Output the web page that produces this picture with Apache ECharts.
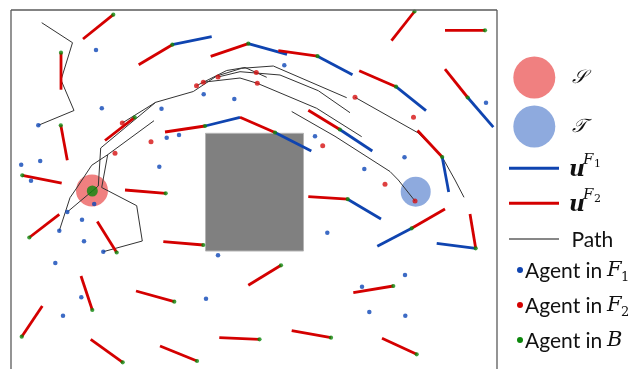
<!DOCTYPE html>
<html>
<head>
<meta charset="utf-8">
<script src="https://cdn.jsdelivr.net/npm/echarts@6/dist/echarts.min.js"></script>
<style>
  html, body { margin: 0; padding: 0; background: #fff; overflow: hidden; }
  #chart { width: 632px; height: 369px; }
</style>
</head>
<body>
<div id="chart"></div>
<script>
// Workspace coordinates: x grows to the right, y grows downward.

// Obstacle rectangle [xMin, yMin, xMax, yMax]
const obstacle = [205.5, 133.3, 303.5, 251];

// Start region S and target region T: [cx, cy, radius]
const startRegion = [92, 190.5, 16];
const targetRegion = [415.7, 191.7, 15];

// Agents in the boundary set B
const agentsB = [
  [113.3, 14.7], [61, 52.7], [172.3, 44.7], [248.3, 43.7], [317.5, 56.2],
  [414.5, 11.5], [485, 30.3], [396, 86.7], [467.7, 97.5], [60.8, 125.3],
  [134.7, 117.3], [205, 126], [275, 132.5], [339.8, 129.5], [442.2, 157],
  [22.3, 175.3], [165.7, 193.3], [29.3, 237.5], [116.7, 252.5], [203.3, 245],
  [347.7, 199.2], [411.7, 228.3], [475.7, 248.3], [281, 265.3], [92.3, 310],
  [174.3, 301.7], [21.7, 336.7], [393.3, 286], [122.7, 362.3], [197, 361],
  [259.5, 339.3], [331, 337.7], [416.7, 354.3]
];
// Agent of B inside the start region
const agentsBInStart = [[92.3, 191]];

// Agents in F1
const agentsF1 = [
  [96, 50], [101.8, 108.2], [38.3, 125.3], [161.5, 108.7], [166.7, 137.7],
  [179, 135], [159.3, 166.7], [203.7, 94.3], [234.3, 99], [284.3, 65.3],
  [21.2, 164.8], [40.2, 161], [31, 180.7], [94.2, 204], [67.3, 212],
  [59.3, 230.8], [82, 219.7], [84, 241.3], [103.3, 251.7], [55.3, 263],
  [81.3, 297.3], [63, 315.7], [218, 255.3], [206, 298.7], [327.3, 232.7],
  [315, 136.3], [364.3, 169], [404.5, 157.3], [486, 102.7], [405, 275],
  [362, 286.7], [369.3, 312], [405.3, 315.7]
];

// Agents in F2
const agentsF2 = [
  [122.3, 123], [151, 141.7], [115, 153.3], [196.5, 85.7], [203.3, 82.2],
  [218, 77], [256.3, 72.5], [257.3, 83.3], [355, 97.3], [413.5, 117.3],
  [322.7, 145.7], [385, 184.3], [415, 201]
];

// Control u^{F1}: [x0, y0, x1, y1]
const uF1 = [
  [172.3, 44.7, 211.7, 36.7], [248.3, 43.7, 287, 54.3], [317.5, 56.2, 352.5, 74.8],
  [396, 86.7, 426, 110.7], [467.7, 97.5, 493.3, 127.2], [205, 126, 240, 117.3],
  [275, 132.5, 311.3, 151], [339.8, 129.5, 372.3, 151], [442.2, 157, 448.7, 192],
  [347.7, 199.2, 381, 219], [411.7, 228.3, 377.3, 246.3], [475.7, 248.3, 436.7, 243.3]
];

// Control u^{F2}: [x0, y0, x1, y1]
const uF2 = [
  [113.3, 14.7, 83, 39], [61, 52.7, 61, 89.7], [172.3, 44.7, 138.7, 64.7],
  [248.3, 43.7, 210.7, 56.3], [317.5, 56.2, 278.3, 50.7], [414.5, 11.5, 391.5, 40.7],
  [485, 30.3, 445, 30.3], [396, 86.7, 359.2, 70.7], [467.7, 97.5, 445, 69.2],
  [60.8, 125.3, 67.3, 160.3], [134.7, 117.3, 105, 140.5], [205, 126, 165, 132],
  [275, 132.5, 240, 117.3], [339.8, 129.5, 308.3, 110.2], [442.2, 157, 417.5, 130.5],
  [22.3, 175.3, 61.7, 183.2], [165.7, 193.3, 125, 190], [29.3, 237.5, 59.3, 214.3],
  [116.7, 252.5, 97.3, 221.5], [203.3, 245, 163.3, 241.7], [347.7, 199.2, 308.3, 196.7],
  [411.7, 228.3, 445, 209], [475.7, 248.3, 470, 214], [281, 265.3, 248.3, 285.3],
  [92.3, 310, 81, 276], [174.3, 301.7, 136, 291], [21.7, 336.7, 42.3, 306],
  [393.3, 286, 353.3, 292.7], [122.7, 362.3, 90.7, 339.3], [197, 361, 160, 346],
  [259.5, 339.3, 219.3, 337.7], [331, 337.7, 291.7, 330.7], [416.7, 354.3, 382, 338.3]
];

// Agent paths (polylines)
const paths = [
  [[41.7, 22.7], [72.5, 42.7], [61, 80], [74, 110.5], [38.3, 125.3]],
  [[59.3, 230.7], [70, 197.7], [76.7, 188], [91.7, 165.3], [107.7, 154.7], [154, 120.7]],
  [[103.3, 251.7], [142.3, 241], [136.7, 205.7], [101.7, 187.5], [107.7, 154.7]],
  [[67.3, 212], [92.3, 191], [98.3, 186], [100.7, 148], [155.7, 102.3], [193.3, 91.5],
   [216.7, 76], [241.7, 68.3], [273.3, 66], [346.7, 97.7]],
  [[122.3, 123], [155.7, 102.3]],
  [[196.5, 85.7], [226.7, 70.5], [245, 67.5], [266.7, 77.3]],
  [[203.3, 82.2], [240, 78], [257.3, 83.3], [316.7, 108.3], [361.7, 136.7]],
  [[218, 77], [240, 71.7], [280, 75], [318.3, 90.7], [350, 112.7]],
  [[291.7, 111.5], [335, 136.3], [390, 171.5], [398.3, 180], [415, 201]],
  [[355, 97.3], [418.3, 133], [442.2, 157], [455, 180], [464, 197.3]]
];

const RED = '#d40000';
const BLUE = '#0f44b0';
const GREEN = '#0b870b';

const chart = echarts.init(document.getElementById('chart'), null, { renderer: 'canvas' });

function segmentSeries(name, data, color) {
  return {
    type: 'custom', name: name, data: data, z: 4, silent: true,
    encode: { x: [0, 2], y: [1, 3] },
    renderItem: function (params, api) {
      const a = api.coord([api.value(0), api.value(1)]);
      const b = api.coord([api.value(2), api.value(3)]);
      return {
        type: 'line',
        shape: { x1: a[0], y1: a[1], x2: b[0], y2: b[1] },
        style: { stroke: color, lineWidth: 2.8, lineCap: 'butt' }
      };
    }
  };
}

function regionSeries(region, color) {
  return {
    type: 'custom', data: [region], z: 2, silent: true,
    renderItem: function (params, api) {
      const c = api.coord([api.value(0), api.value(1)]);
      const r = api.size([api.value(2), 0])[0];
      return { type: 'circle', shape: { cx: c[0], cy: c[1], r: r }, style: { fill: color } };
    }
  };
}

const pathSeries = paths.map(function (p) {
  return {
    type: 'line', data: p, z: 3, silent: true, showSymbol: false,
    lineStyle: { color: '#333', width: 1 }
  };
});

// Frame around the workspace: left, top and right sides; the bottom edge stays open
const frame = [
  { type: 'rect', z: 100, shape: { x: 12, y: 365.5, width: 484, height: 5 }, style: { fill: '#fff' } },
  { type: 'line', z: 101, shape: { x1: 11, y1: 10, x2: 11, y2: 400 }, style: { stroke: '#5a5a5a', lineWidth: 1.3 } },
  { type: 'line', z: 101, shape: { x1: 11, y1: 10, x2: 497, y2: 10 }, style: { stroke: '#5a5a5a', lineWidth: 1.3 } },
  { type: 'line', z: 101, shape: { x1: 497, y1: 10, x2: 497, y2: 400 }, style: { stroke: '#5a5a5a', lineWidth: 1.3 } }
];

// Legend drawn at the right of the frame
const legendFont = 'Lato, "DejaVu Sans", sans-serif';
const mathFont = '"DejaVu Serif", "Liberation Serif", serif';
const legendItems = frame.concat([
  { type: 'circle', shape: { cx: 534.3, cy: 77.5, r: 21 }, style: { fill: '#f08080' } },
  { type: 'circle', shape: { cx: 534.3, cy: 126.5, r: 21 }, style: { fill: '#8eaade' } },
  { type: 'text', x: 572, y: 78, style: { text: '𝒮', font: 'italic 19px ' + mathFont, fill: '#111', verticalAlign: 'middle' } },
  { type: 'text', x: 572, y: 127, style: { text: '𝒯', font: 'italic 19px ' + mathFont, fill: '#111', verticalAlign: 'middle' } },
  { type: 'line', shape: { x1: 509, y1: 168.3, x2: 559, y2: 168.3 }, style: { stroke: BLUE, lineWidth: 3 } },
  { type: 'line', shape: { x1: 509, y1: 203.3, x2: 559, y2: 203.3 }, style: { stroke: RED, lineWidth: 3 } },
  { type: 'line', shape: { x1: 509, y1: 239, x2: 559, y2: 239 }, style: { stroke: '#111', lineWidth: 1.2 } },
  { type: 'text', x: 569, y: 170, style: { text: 'u', font: 'italic bold 22px ' + mathFont, fill: '#111', verticalAlign: 'middle' } },
  { type: 'text', x: 583, y: 160, style: { text: 'F', font: 'italic 15px ' + mathFont, fill: '#111', verticalAlign: 'middle' } },
  { type: 'text', x: 594, y: 164, style: { text: '1', font: '11px ' + mathFont, fill: '#111', verticalAlign: 'middle' } },
  { type: 'text', x: 569, y: 205, style: { text: 'u', font: 'italic bold 22px ' + mathFont, fill: '#111', verticalAlign: 'middle' } },
  { type: 'text', x: 583, y: 195, style: { text: 'F', font: 'italic 15px ' + mathFont, fill: '#111', verticalAlign: 'middle' } },
  { type: 'text', x: 594, y: 199, style: { text: '2', font: '11px ' + mathFont, fill: '#111', verticalAlign: 'middle' } },
  { type: 'text', x: 571.5, y: 240, style: { text: 'Path', font: '21px ' + legendFont, fill: '#111', verticalAlign: 'middle' } },
  { type: 'circle', shape: { cx: 520, cy: 270, r: 3 }, style: { fill: BLUE } },
  { type: 'circle', shape: { cx: 520, cy: 305, r: 3 }, style: { fill: RED } },
  { type: 'circle', shape: { cx: 520, cy: 340, r: 3 }, style: { fill: GREEN } },
  { type: 'text', x: 525, y: 271, style: { text: 'Agent in', font: '21px ' + legendFont, fill: '#111', verticalAlign: 'middle' } },
  { type: 'text', x: 525, y: 306, style: { text: 'Agent in', font: '21px ' + legendFont, fill: '#111', verticalAlign: 'middle' } },
  { type: 'text', x: 525, y: 341, style: { text: 'Agent in', font: '21px ' + legendFont, fill: '#111', verticalAlign: 'middle' } },
  { type: 'text', x: 607, y: 271, style: { text: 'F', font: 'italic 21px ' + mathFont, fill: '#111', verticalAlign: 'middle' } },
  { type: 'text', x: 621, y: 278, style: { text: '1', font: '13px ' + mathFont, fill: '#111', verticalAlign: 'middle' } },
  { type: 'text', x: 607, y: 306, style: { text: 'F', font: 'italic 21px ' + mathFont, fill: '#111', verticalAlign: 'middle' } },
  { type: 'text', x: 621, y: 313, style: { text: '2', font: '13px ' + mathFont, fill: '#111', verticalAlign: 'middle' } },
  { type: 'text', x: 607, y: 341, style: { text: 'B', font: 'italic 21px ' + mathFont, fill: '#111', verticalAlign: 'middle' } }
]);

const option = {
  animation: false,
  backgroundColor: '#fff',
  grid: { left: 11, right: 135, top: 10, bottom: 0, show: false },
  xAxis: {
    type: 'value', min: 11, max: 497,
    axisLine: { show: false }, axisTick: { show: false }, axisLabel: { show: false }, splitLine: { show: false }
  },
  yAxis: {
    type: 'value', min: 10, max: 369, inverse: true,
    axisLine: { show: false }, axisTick: { show: false }, axisLabel: { show: false }, splitLine: { show: false }
  },
  series: [
    {
      type: 'custom', data: [obstacle], z: 1, silent: true,
      renderItem: function (params, api) {
        const a = api.coord([api.value(0), api.value(1)]);
        const b = api.coord([api.value(2), api.value(3)]);
        return {
          type: 'rect',
          shape: { x: a[0], y: a[1], width: b[0] - a[0], height: b[1] - a[1] },
          style: { fill: '#808080', stroke: '#b4b4b4', lineWidth: 1 }
        };
      }
    },
    regionSeries(startRegion, '#f08080'),
    regionSeries(targetRegion, '#8eaade')
  ].concat(pathSeries).concat([
    segmentSeries('uF1', uF1, BLUE),
    segmentSeries('uF2', uF2, RED),
    { type: 'scatter', data: agentsF1, z: 6, symbolSize: 4.5, itemStyle: { color: '#0d46b6' } },
    { type: 'scatter', data: agentsF2, z: 6, symbolSize: 5, itemStyle: { color: '#d61010' } },
    { type: 'scatter', data: agentsB, z: 7, symbolSize: 4.2, itemStyle: { color: GREEN } },
    { type: 'scatter', data: agentsBInStart, z: 7, symbolSize: 11, itemStyle: { color: GREEN } }
  ]),
  graphic: legendItems
};

chart.setOption(option);
</script>
</body>
</html>
